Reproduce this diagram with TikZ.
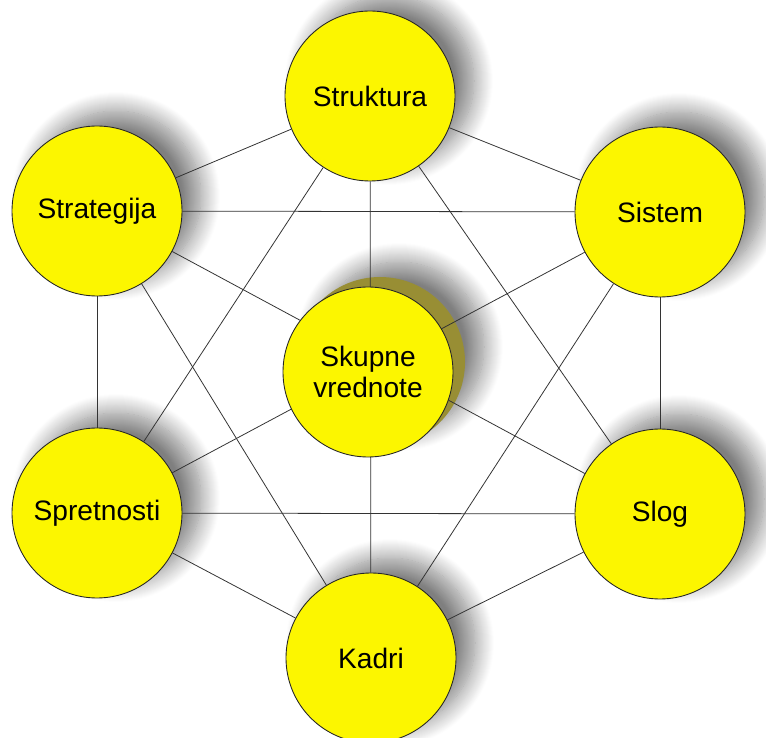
\documentclass[tikz,border=0pt]{standalone}
\usepackage{fontspec}
\setmainfont{Liberation Sans}
\usetikzlibrary{shadows.blur}
\pgfdeclarelayer{background}
\pgfsetlayers{background,main}
\definecolor{sevenyellow}{RGB}{252,246,0}
\definecolor{sevenolive}{RGB}{152,142,52}

\begin{document}
\begin{tikzpicture}[
	circ/.style={
		draw=black!85, line width=0.5pt, circle, fill=sevenyellow,
		minimum size=3.4cm, inner sep=0pt,
		font=\fontsize{16}{17.5}\selectfont, align=center
	},
	shade/.style={
		blur shadow={shadow xshift=0.38cm, shadow yshift=0.3cm,
			shadow blur radius=0.38cm, shadow blur steps=20,
			shadow opacity=50}
	},
	link/.style={draw=black!80, line width=0.45pt},
	]
	\useasboundingbox (0,0) rectangle (15.32,-14.76);
	
	\node[circ] (struktura)  at (7.40,-1.92)  {Struktura};
	\node[circ] (strategija) at (1.94,-4.22)  {Strategija};
	\node[circ] (sistem)     at (13.20,-4.24) {Sistem};
	\node[circ] (spretnosti) at (1.94,-10.26) {Spretnosti};
	\node[circ] (slog)       at (13.20,-10.28) {Slog};
	\node[circ] (kadri)      at (7.42,-13.16) {Kadri};
	\node[circ] (vrednote)   at (7.36,-7.44)  {Skupne\\vrednote};
	
	\begin{pgfonlayer}{background}
		% shadows under everything
		\foreach \n in {struktura,strategija,sistem,spretnosti,slog,kadri}
		\path[shade] (\n.center) circle (1.7cm);
		\path[shade] ([xshift=0.24cm,yshift=0.2cm]vrednote.center) circle (1.7cm);
		\fill[sevenolive] ([xshift=0.24cm,yshift=0.2cm]vrednote.center) circle (1.7cm);
		
		% connectors (the long diagonals run under the middle circle)
		\foreach \a/\b in {struktura/strategija, struktura/sistem, struktura/spretnosti,
			struktura/slog, struktura/kadri, strategija/sistem, strategija/spretnosti,
			strategija/slog, strategija/kadri, sistem/spretnosti, sistem/slog,
			sistem/kadri, spretnosti/slog, spretnosti/kadri, slog/kadri}
		\draw[link] (\a) -- (\b);
	\end{pgfonlayer}
	
\end{tikzpicture}
\end{document}
